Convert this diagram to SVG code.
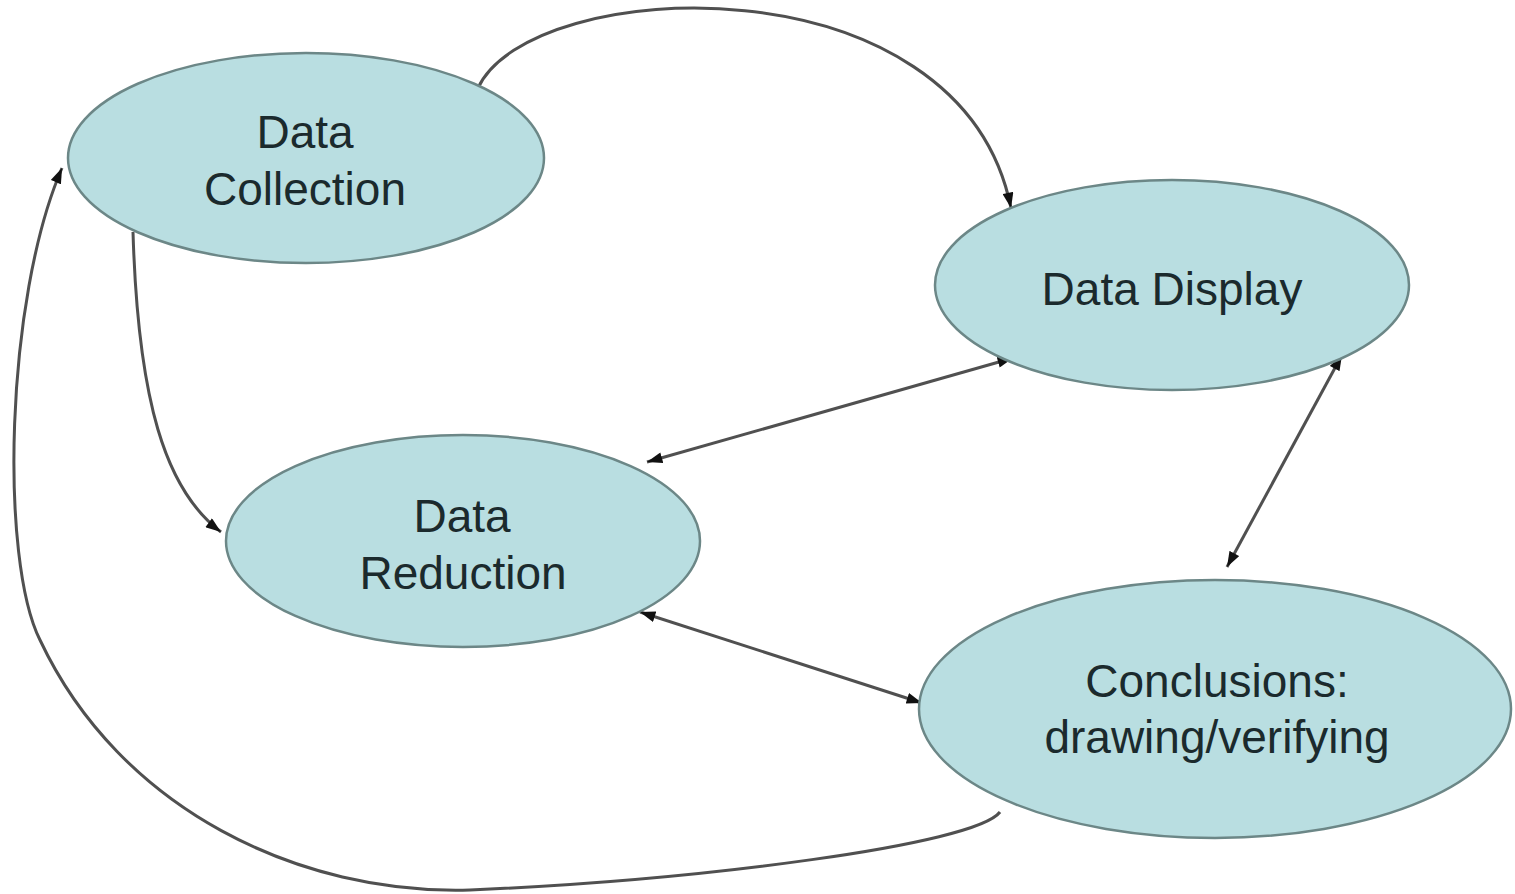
<svg xmlns="http://www.w3.org/2000/svg" width="1515" height="894" viewBox="0 0 1515 894">
<style>
.node{fill:#b9dee1;stroke:#6c8787;stroke-width:2.5}
.lbl{font-family:"Liberation Sans",Arial,sans-serif;font-size:46px;fill:#1b2a2d;text-anchor:middle}
.edge{fill:none;stroke:#505050;stroke-width:3}
</style>
<defs>
<marker id="ah" viewBox="0 0 14 10" refX="14" refY="5" markerWidth="16" markerHeight="11" markerUnits="userSpaceOnUse" orient="auto-start-reverse">
<path d="M0,0 L14,5 L0,10 z" fill="#111"/>
</marker>
</defs>
<rect width="1515" height="894" fill="#ffffff"/>
<g id="connectors">
<path class="edge" d="M478,88 C530,-25 960,-45 1011,208" marker-end="url(#ah)"/>
<path class="edge" d="M133,232 C138,400 165,490 221,532" marker-end="url(#ah)"/>
<path class="edge" d="M1000,812 C975,845 700,880 470,890 C300,895 120,810 40,640 C0,560 5,300 62,168" marker-end="url(#ah)"/>
<path class="edge" d="M647,462 L1013,358" marker-start="url(#ah)" marker-end="url(#ah)"/>
<path class="edge" d="M1227,567 L1342,355" marker-start="url(#ah)" marker-end="url(#ah)"/>
<path class="edge" d="M640,612 L922,703" marker-start="url(#ah)" marker-end="url(#ah)"/>
</g>
<g id="data-collection">
<ellipse class="node" cx="306" cy="158" rx="238" ry="105"/>
<text class="lbl" x="305" y="148">Data</text>
<text class="lbl" x="305" y="205">Collection</text>
</g>
<g id="data-display">
<ellipse class="node" cx="1172" cy="285" rx="237" ry="105"/>
<text class="lbl" x="1172" y="305">Data Display</text>
</g>
<g id="data-reduction">
<ellipse class="node" cx="463" cy="541" rx="237" ry="106"/>
<text class="lbl" x="462" y="532">Data</text>
<text class="lbl" x="463" y="589">Reduction</text>
</g>
<g id="conclusions">
<ellipse class="node" cx="1215" cy="709" rx="296" ry="129"/>
<text class="lbl" x="1217" y="697">Conclusions:</text>
<text class="lbl" x="1217" y="753">drawing/verifying</text>
</g>
</svg>
